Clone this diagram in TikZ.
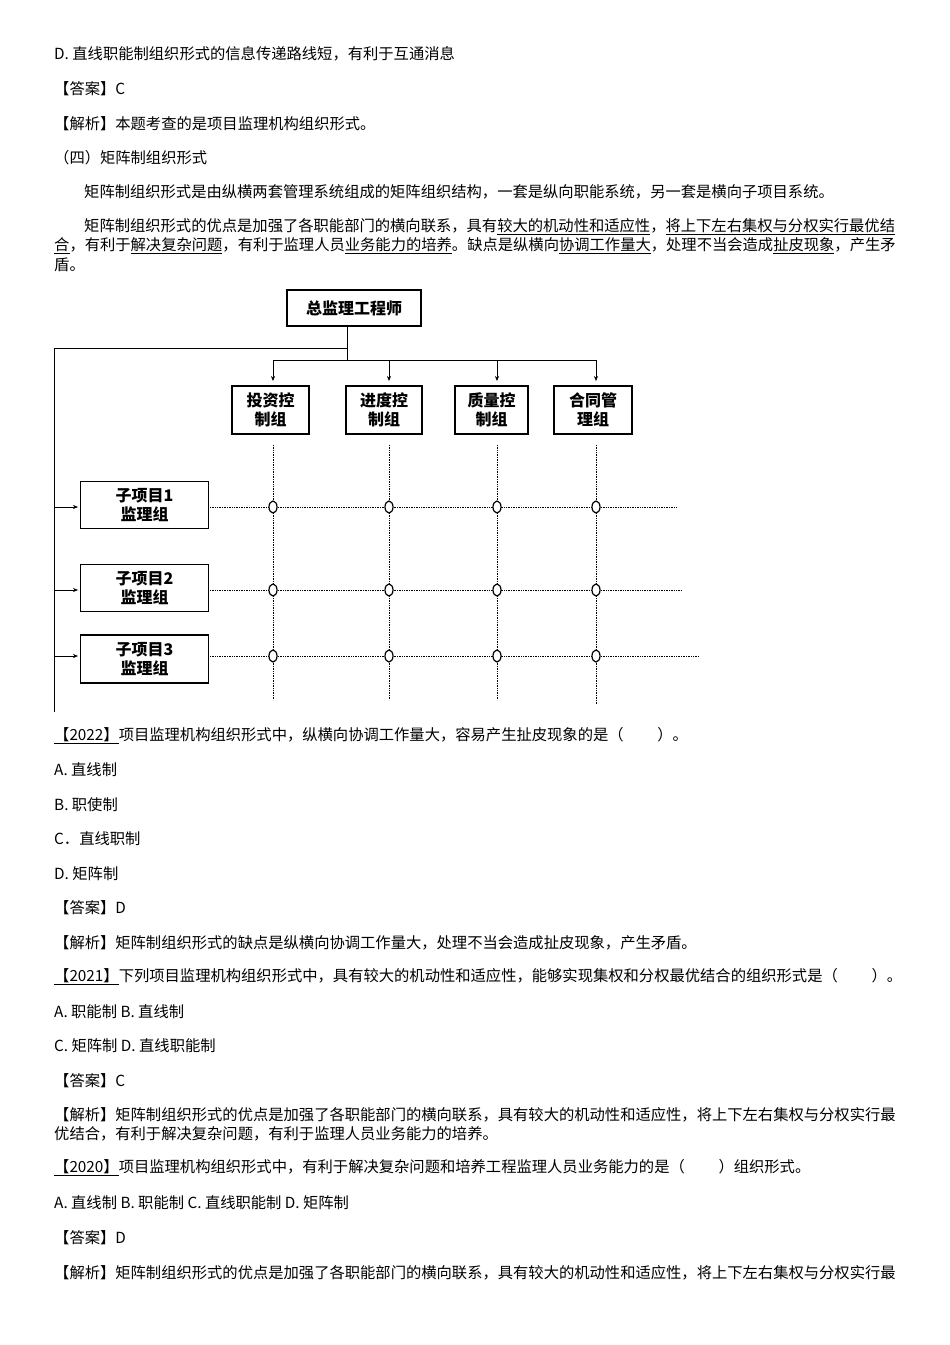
\documentclass[tikz,border=0pt]{standalone}
\usepackage{fontspec}
\setmainfont{Noto Sans CJK SC}
\usetikzlibrary{arrows.meta,shapes.geometric}
\newcommand{\txtline}[4]{\node[tl] (#1) at (#2,#3) {#4};}
\newcommand{\ul}[1]{\underline{#1}}
\begin{document}
\begin{tikzpicture}[x=1pt,y=-1pt,
  tl/.style={anchor=west,inner sep=0pt,font=\fontsize{15.3}{17}\selectfont},
  boxa/.style={draw,line width=1.3pt,inner sep=0pt,align=center,font=\fontsize{16}{19}\selectfont\bfseries},
  dot/.style={densely dotted,line width=0.7pt},
  ring/.style={draw,line width=1.2pt,fill=white,ellipse,minimum width=8pt,minimum height=12pt,inner sep=0pt},
  arr/.style={-{Stealth[length=5pt,width=4pt]},line width=0.6pt}]
\useasboundingbox (0,0) rectangle (950,1345);
\fill[white] (0,0) rectangle (950,1345);
\txtline{l1}{54}{54}{D.\ 直线职能制组织形式的信息传递路线短，有利于互通消息}
\txtline{l2}{54}{89}{【答案】C}
\txtline{l3}{54}{124}{【解析】本题考查的是项目监理机构组织形式。}
\txtline{l4}{54}{158}{（四）矩阵制组织形式}
\txtline{l5}{84}{192}{矩阵制组织形式是由纵横两套管理系统组成的矩阵组织结构，一套是纵向职能系统，另一套是横向子项目系统。}
\txtline{l6}{84}{227}{矩阵制组织形式的优点是加强了各职能部门的横向联系，具有\ul{较大的机动性和适应性}，\ul{将上下左右集权与分权实行最优结}}
\txtline{l7}{54}{246}{\ul{合}，有利于\ul{解决复杂问题}，有利于监理人员\ul{业务能力的培养}。缺点是纵横向\ul{协调工作量大}，处理不当会造成\ul{扯皮现象}，产生矛}
\txtline{l8}{54}{265}{盾。}
% diagram
\node[boxa,minimum width=134pt,minimum height=36pt] (top) at (354,308) {总监理工程师};
\foreach \n/\x/\w/\t in {a/270.5/77/投资控\\制组, b/384/76/进度控\\制组, c/491.5/73/质量控\\制组, d/593/78/合同管\\理组}{
  \node[boxa,minimum width=\w pt,minimum height=48pt] (\n) at (\x,410) {\t};
}
\coordinate (j1) at (347,348);
\coordinate (j2) at (347,360);
\draw[line width=0.7pt] (top.south -| j1) -- (j2);
\draw[line width=0.7pt] (j1) -- (54,348) -- (54,712);
\draw[line width=0.7pt] (273,360) -- (596,360);
\foreach \n/\x in {a/273,b/389,c/497,d/596}{
  \draw[arr] (\x,360) -- (\x,381);
}
\foreach \n/\y/\h in {s1/505/47, s2/588/47, s3/659/48}{
  \node[boxa,minimum width=128pt,minimum height=\h pt] (\n) at (144.5,\y) {};
}
\node[boxa,draw=none] at (s1) {子项目1\\监理组};
\node[boxa,draw=none] at (s2) {子项目2\\监理组};
\node[boxa,draw=none] at (s3) {子项目3\\监理组};
\foreach \s/\y/\e in {s1/507/676, s2/590/682, s3/656/698}{
  \draw[dot] (210,\y) -- (\e,\y);
  \draw[arr] (54,\y) -- (78,\y);
}
\foreach \x/\b in {273/700, 389/700, 497/700, 596/705}{
  \draw[dot] (\x,445) -- (\x,\b);
  \foreach \y in {507,590,656}{ \node[ring] at (\x,\y) {}; }
}
% lower text
\txtline{m1}{54}{736}{\ul{【2022】}项目监理机构组织形式中，纵横向协调工作量大，容易产生扯皮现象的是（\hspace{2.2em}）。}
\txtline{m2}{54}{770}{A.\ 直线制}
\txtline{m3}{54}{805}{B.\ 职使制}
\txtline{m4}{54}{839}{C．直线职制}
\txtline{m5}{54}{874}{D.\ 矩阵制}
\txtline{m6}{54}{908}{【答案】D}
\txtline{m7}{54}{943}{【解析】矩阵制组织形式的缺点是纵横向协调工作量大，处理不当会造成扯皮现象，产生矛盾。}
\txtline{m8}{54}{977}{\ul{【2021】}下列项目监理机构组织形式中，具有较大的机动性和适应性，能够实现集权和分权最优结合的组织形式是（\hspace{2.2em}）。}
\txtline{m9}{54}{1012}{A.\ 职能制 B.\ 直线制}
\txtline{m10}{54}{1046}{C.\ 矩阵制 D.\ 直线职能制}
\txtline{m11}{54}{1081}{【答案】C}
\txtline{m12}{54}{1115}{【解析】矩阵制组织形式的优点是加强了各职能部门的横向联系，具有较大的机动性和适应性，将上下左右集权与分权实行最}
\txtline{m13}{54}{1134}{优结合，有利于解决复杂问题，有利于监理人员业务能力的培养。}
\txtline{m14}{54}{1168}{\ul{【2020】}项目监理机构组织形式中，有利于解决复杂问题和培养工程监理人员业务能力的是（\hspace{2.2em}）组织形式。}
\txtline{m15}{54}{1203}{A.\ 直线制 B.\ 职能制 C.\ 直线职能制 D.\ 矩阵制}
\txtline{m16}{54}{1238}{【答案】D}
\txtline{m17}{54}{1273}{【解析】矩阵制组织形式的优点是加强了各职能部门的横向联系，具有较大的机动性和适应性，将上下左右集权与分权实行最}
\end{tikzpicture}
\end{document}
